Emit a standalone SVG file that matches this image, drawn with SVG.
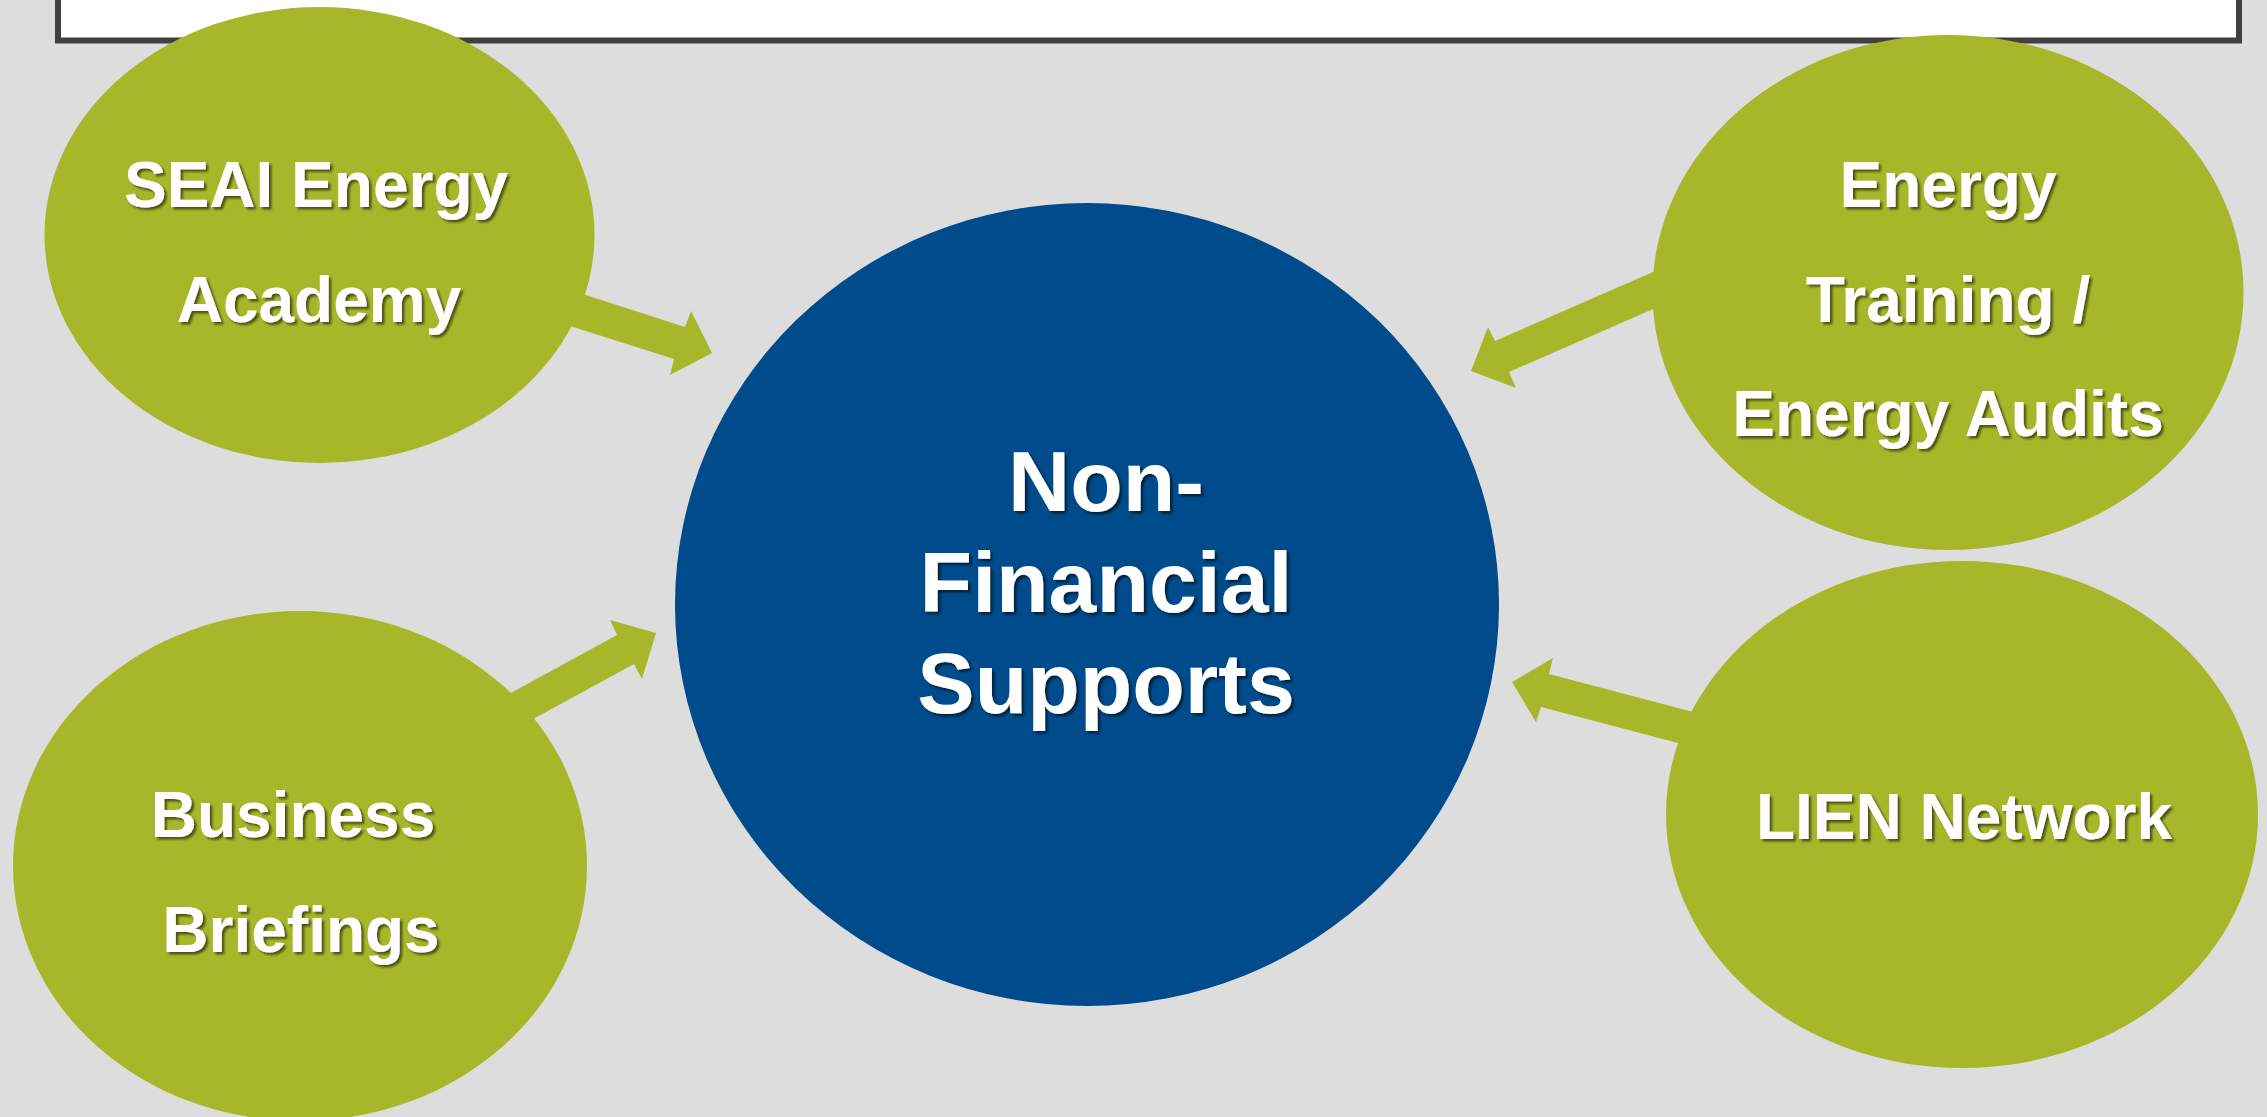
<svg xmlns="http://www.w3.org/2000/svg" width="2267" height="1117" viewBox="0 0 2267 1117">
<defs>
<filter id="sh" x="-10%" y="-10%" width="120%" height="130%">
<feDropShadow dx="2.5" dy="2.5" stdDeviation="1.2" flood-color="#000" flood-opacity="0.55"/>
</filter>
<style>
.bg{fill:#DDDDDD}
.box{fill:#FFFFFF;stroke:#404040;stroke-width:6}
.g{fill:#A6B82A}
.b{fill:#004B8B}
.arr{fill:#A6B82A}
.t{font-family:"Liberation Sans",Arial,sans-serif;font-weight:bold;fill:#FFFFFF;text-anchor:middle;filter:url(#sh)}
.s{font-size:64px}
.l{font-size:86px}
</style>
</defs>
<rect class="bg" x="0" y="0" width="2267" height="1117"/>
<rect id="title-box" class="box" x="58" y="-20" width="2181" height="60.5"/>
<g id="connectors">
<polygon class="arr" points="561,287 685,327 691,311 712,353 670,375 674,359 548,319"/>
<polygon class="arr" points="1676,262 1495,341 1488,327 1471,371 1516,388 1509,372 1676,299"/>
<polygon class="arr" points="489,705 617,635 610,620 656,633 642,679 634,664 513,730"/>
<polygon class="arr" points="1553,658 1549,674 1716,718 1701,749 1541,707 1536,722 1512,682"/>
</g>
<g id="center">
<ellipse class="b" cx="1087" cy="604.5" rx="412" ry="401.5"/>
<text class="t l" x="1106" y="511">Non-</text>
<text class="t l" x="1106" y="612">Financial</text>
<text class="t l" x="1106" y="713">Supports</text>
</g>
<g id="seai">
<ellipse class="g" cx="319.5" cy="235" rx="275" ry="228"/>
<text class="t s" x="316" y="207">SEAI Energy</text>
<text class="t s" x="319" y="322">Academy</text>
</g>
<g id="training">
<ellipse class="g" cx="1948" cy="292.5" rx="295.5" ry="257.5"/>
<text class="t s" x="1948" y="207">Energy</text>
<text class="t s" x="1948" y="322">Training /</text>
<text class="t s" x="1948" y="436">Energy Audits</text>
</g>
<g id="business">
<ellipse class="g" cx="300" cy="866" rx="287" ry="255"/>
<text class="t s" x="293" y="837">Business</text>
<text class="t s" x="301" y="952">Briefings</text>
</g>
<g id="lien">
<ellipse class="g" cx="1962" cy="814.5" rx="296" ry="253.5"/>
<text class="t s" x="1964" y="839">LIEN Network</text>
</g>
</svg>
